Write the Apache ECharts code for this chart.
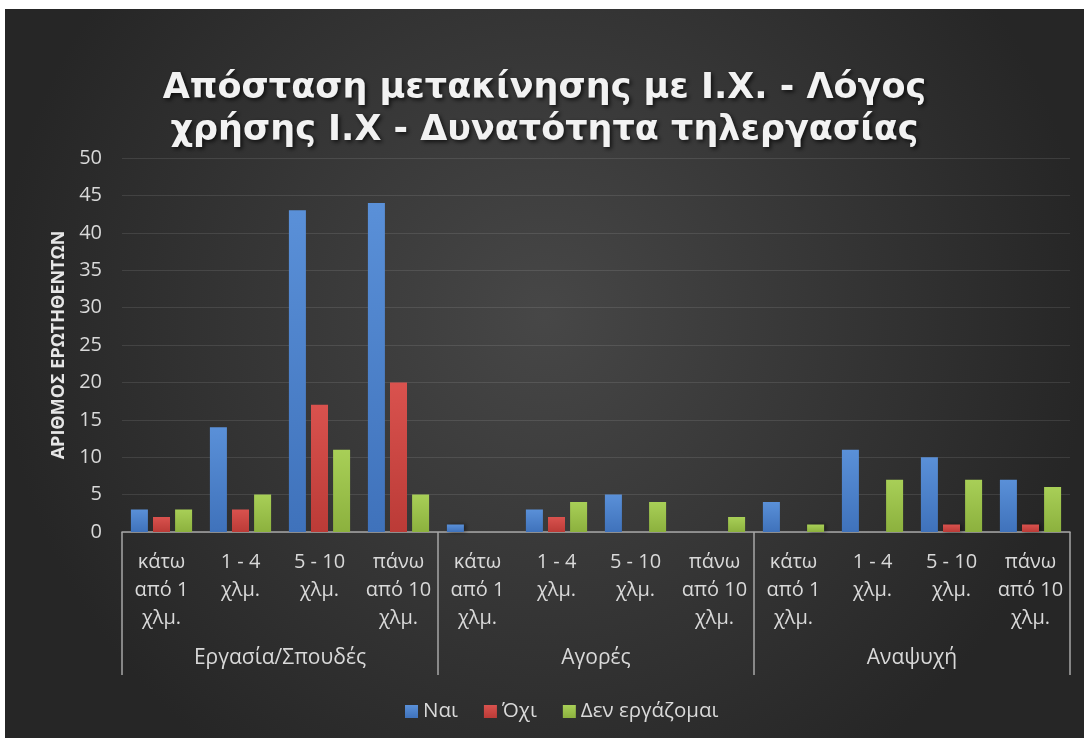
<!DOCTYPE html>
<html>
<head>
<meta charset="utf-8">
<script src="https://cdn.jsdelivr.net/npm/echarts@6/dist/echarts.min.js"></script>
<style>
  html, body { margin: 0; padding: 0; background: #ffffff; }
  #chart { position: absolute; left: 5px; top: 9px; width: 1079px; height: 729px; }
</style>
</head>
<body>
<div id="chart"></div>
<script>
const titleText = 'Απόσταση μετακίνησης με Ι.Χ. - Λόγος\nχρήσης Ι.Χ - Δυνατότητα τηλεργασίας';
const distances = ['κάτω\nαπό 1\nχλμ.', '1 - 4\nχλμ.', '5 - 10\nχλμ.', 'πάνω\nαπό 10\nχλμ.'];
const groups = ['Εργασία/Σπουδές', 'Αγορές', 'Αναψυχή'];
const seriesNames = ['Ναι', 'Όχι', 'Δεν εργάζομαι'];
const nai = [3, 14, 43, 44, 1, 3, 5, 0, 4, 11, 10, 7];
const oxi = [2, 3, 17, 20, 0, 2, 0, 0, 0, 0, 1, 1];
const den = [3, 5, 11, 5, 0, 4, 4, 2, 1, 7, 7, 6];
const yTicks = { min: 0, max: 50, interval: 5 };
const yName = 'ΑΡΙΘΜΟΣ ΕΡΩΤΗΘΕΝΤΩΝ';

const categories = [];
groups.forEach(() => distances.forEach(d => categories.push(d)));

function grad(top, bottom) {
  return new echarts.graphic.LinearGradient(0, 0, 0, 1, [
    { offset: 0, color: top }, { offset: 1, color: bottom }
  ]);
}
const colors = [grad('#5a90d8', '#3f72bb'), grad('#d9524e', '#bb3b37'), grad('#a8cf57', '#8cb13e')];
const values = [nai, oxi, den];

const chart = echarts.init(document.getElementById('chart'), null, { renderer: 'canvas' });
const font = '"Open Sans", "Noto Sans", sans-serif';

chart.setOption({
  backgroundColor: new echarts.graphic.RadialGradient(0.5, 0.42, 0.75, [
    { offset: 0, color: '#474747' }, { offset: 1, color: '#262626' }
  ]),
  textStyle: { fontFamily: font },
  title: {
    text: titleText,
    left: 'center',
    top: 54,
    textStyle: {
      color: '#f2f2f2', fontSize: 35, fontWeight: 'bold', lineHeight: 42, fontFamily: '"DejaVu Sans", sans-serif',
      textShadowColor: 'rgba(0,0,0,0.7)', textShadowBlur: 4, textShadowOffsetX: 2, textShadowOffsetY: 2
    }
  },
  legend: {
    top: 687,
    left: 395,
    itemWidth: 13, itemHeight: 13, itemGap: 26,
    icon: 'rect',
    textStyle: { color: '#d9d9d9', fontSize: 20.5, fontFamily: font },
    data: seriesNames
  },
  grid: { left: 117, right: 14, top: 149, bottom: 206, containLabel: false },
  xAxis: [
    {
      type: 'category',
      data: categories,
      position: 'bottom',
      axisLine: { show: true, lineStyle: { color: '#a6a6a6', width: 1.5 } },
      axisTick: { show: false },
      axisLabel: { color: '#d9d9d9', fontSize: 20, lineHeight: 28, margin: 16, interval: 0, align: 'center', fontFamily: font }
    },
    {
      type: 'category',
      data: groups,
      position: 'bottom',
      offset: 143,
      axisLine: { show: false },
      axisTick: { show: true, inside: true, length: 143, lineStyle: { color: '#a6a6a6', width: 1.5 } },
      axisLabel: { color: '#d9d9d9', fontSize: 21, margin: -27, interval: 0, fontFamily: font }
    }
  ],
  yAxis: {
    type: 'value',
    min: yTicks.min, max: yTicks.max, interval: yTicks.interval,
    name: yName,
    nameLocation: 'middle',
    nameRotate: 90,
    nameGap: 47,
    nameTextStyle: { color: '#e6e6e6', fontSize: 18, fontWeight: 'bold', fontFamily: font },
    axisLine: { show: false },
    axisTick: { show: false },
    axisLabel: { color: '#d9d9d9', fontSize: 20, margin: 20, fontFamily: font },
    splitLine: { lineStyle: { color: 'rgba(255,255,255,0.1)', width: 1 } }
  },
  series: seriesNames.map((name, i) => ({
    name: name,
    type: 'bar',
    xAxisIndex: 0,
    data: values[i],
    barWidth: 17,
    barGap: '30%',
    itemStyle: { color: colors[i], shadowColor: 'rgba(0,0,0,0.5)', shadowBlur: 4, shadowOffsetX: 2, shadowOffsetY: 0 }
  }))
});
</script>
</body>
</html>
